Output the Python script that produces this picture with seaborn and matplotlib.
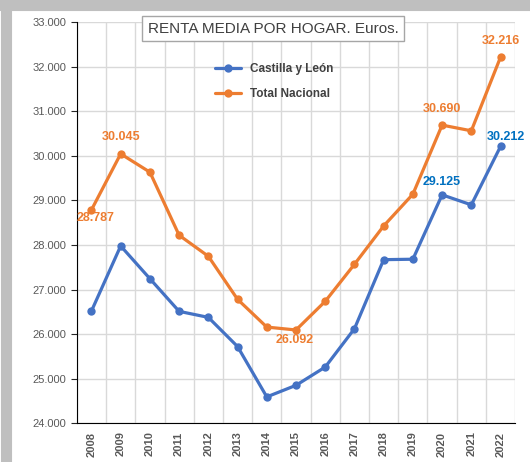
import pandas as pd
import matplotlib.pyplot as plt
import seaborn as sns
from matplotlib.ticker import FuncFormatter, MultipleLocator

# Datos
years = list(range(2008, 2023))
castilla = [26517, 27978, 27243, 26510, 26375, 25720, 24590, 24850, 25260,
            26120, 27670, 27680, 29125, 28900, 30212]
nacional = [28787, 30045, 29634, 28218, 27746, 26780, 26157, 26092, 26735,
            27566, 28427, 29140, 30690, 30562, 32216]

df = pd.DataFrame({
    "Año": years * 2,
    "Renta": castilla + nacional,
    "Serie": ["Castilla y León"] * len(years) + ["Total Nacional"] * len(years),
})

azul = "#4472C4"
naranja = "#ED7D31"
gris = "#595959"

sns.set_style("white")
plt.rcParams["font.family"] = ["Liberation Sans", "DejaVu Sans"]

fig = plt.figure(figsize=(5.3, 4.62), dpi=100)
ax = fig.add_axes([0.145, 0.084, 0.827, 0.868])

sns.lineplot(data=df, x="Año", y="Renta", hue="Serie",
             palette={"Castilla y León": azul, "Total Nacional": naranja},
             marker="o", markersize=6, markeredgewidth=0, linewidth=2.3, ax=ax)

ax.set_xlim(2007.5, 2022.5)
ax.set_ylim(24000, 33000)
ax.yaxis.set_major_locator(MultipleLocator(1000))
ax.yaxis.set_major_formatter(FuncFormatter(lambda v, p: f"{v:,.0f}".replace(",", ".")))
ax.set_xticks(years)
ax.set_xticklabels([str(y) for y in years], rotation=90, fontweight="bold")
ax.set_xticks([y + 0.5 for y in range(2007, 2023)], minor=True)
ax.tick_params(axis="x", which="major", length=0, labelsize=8, labelcolor=gris, pad=6)
ax.tick_params(axis="x", which="minor", length=4, direction="out", color="black")
ax.tick_params(axis="y", length=4, direction="out", labelsize=8, labelcolor=gris, left=True)
ax.grid(True, axis="y", color="#D9D9D9", linewidth=1)
ax.grid(True, axis="x", which="minor", color="#D9D9D9", linewidth=1)
ax.set_xlabel("")
ax.set_ylabel("")
for s in ["top", "right"]:
    ax.spines[s].set_visible(False)
ax.spines["left"].set_color("black")
ax.spines["bottom"].set_color("black")

# Etiquetas de datos
etiquetas = [
    (2008, nacional[0], naranja, (3, -6)),
    (2009, nacional[1], naranja, (0, 12)),
    (2015, nacional[7], naranja, (-1, -7)),
    (2020, nacional[12], naranja, (0, 11.5)),
    (2022, nacional[14], naranja, (0, 11.5)),
    (2020, castilla[12], "#0070C0", (0, 9)),
    (2022, castilla[14], "#0070C0", (4, 7)),
]
for x, v, c, off in etiquetas:
    ax.annotate(f"{v:,.0f}".replace(",", "."), (x, v), xytext=off,
                textcoords="offset points", ha="center", va="center",
                color=c, fontsize=9, fontweight="bold")

# Leyenda
leg = ax.legend(loc="upper left", bbox_to_anchor=(0.29, 0.925), frameon=False,
                fontsize=8.5, handlelength=2.2, labelspacing=1.1)
for t in leg.get_texts():
    t.set_color("#404040")
    t.set_fontweight("bold")

# Título en recuadro
fig.text(0.515, 0.938, "RENTA MEDIA POR HOGAR. Euros.", ha="center", va="center",
         fontsize=11, color="#404040",
         bbox=dict(boxstyle="square,pad=0.35", facecolor="white", edgecolor="#A6A6A6"))

# Marco gris del gráfico
fig.add_artist(plt.Line2D([0.012, 0.012], [0.0, 0.99], color="#BFBFBF", linewidth=8,
                          transform=fig.transFigure))
fig.add_artist(plt.Line2D([0.0, 1.0], [0.99, 0.99], color="#BFBFBF", linewidth=8,
                          transform=fig.transFigure))

fig.savefig("out.png", dpi=100)
